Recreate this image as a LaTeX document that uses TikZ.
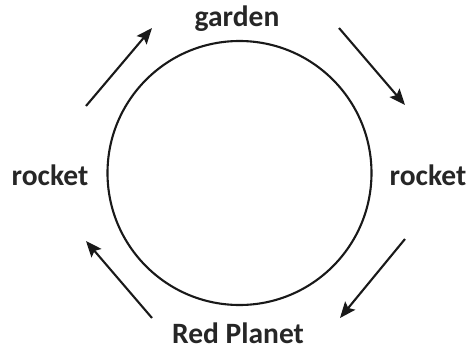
\documentclass[tikz,border=0pt]{standalone}
\usepackage{fontspec}
\setmainfont{Carlito}
\usetikzlibrary{arrows.meta}
\begin{document}
\begin{tikzpicture}[x=1pt,y=-1pt,
  lab/.style={font=\fontsize{29.5}{34}\selectfont\bfseries, text=black!85, anchor=base, inner sep=0pt},
  arr/.style={line width=2.1pt, black!90, -{Stealth[length=16pt,width=13pt,inset=3pt]}}]
\useasboundingbox (0,0) rectangle (467,349);
\node[circle, draw=black!90, line width=2.1pt, minimum size=264pt, inner sep=0pt] (c) at (239.5,173) {};
\node[lab] (g) at (237,26) {garden};
\node[lab] (rl) at (50,185) {rocket};
\node[lab] (rr) at (428,185) {rocket};
\node[lab] (rp) at (238,343) {Red Planet};
\coordinate (a1) at (86,106); \coordinate (b1) at (152,28);
\coordinate (a2) at (339,28); \coordinate (b2) at (405,105);
\coordinate (a3) at (405,239); \coordinate (b3) at (340,318);
\coordinate (a4) at (152,318); \coordinate (b4) at (86,241);
\draw[arr] (a1) -- (b1);
\draw[arr] (a2) -- (b2);
\draw[arr] (a3) -- (b3);
\draw[arr] (a4) -- (b4);
\end{tikzpicture}
\end{document}
